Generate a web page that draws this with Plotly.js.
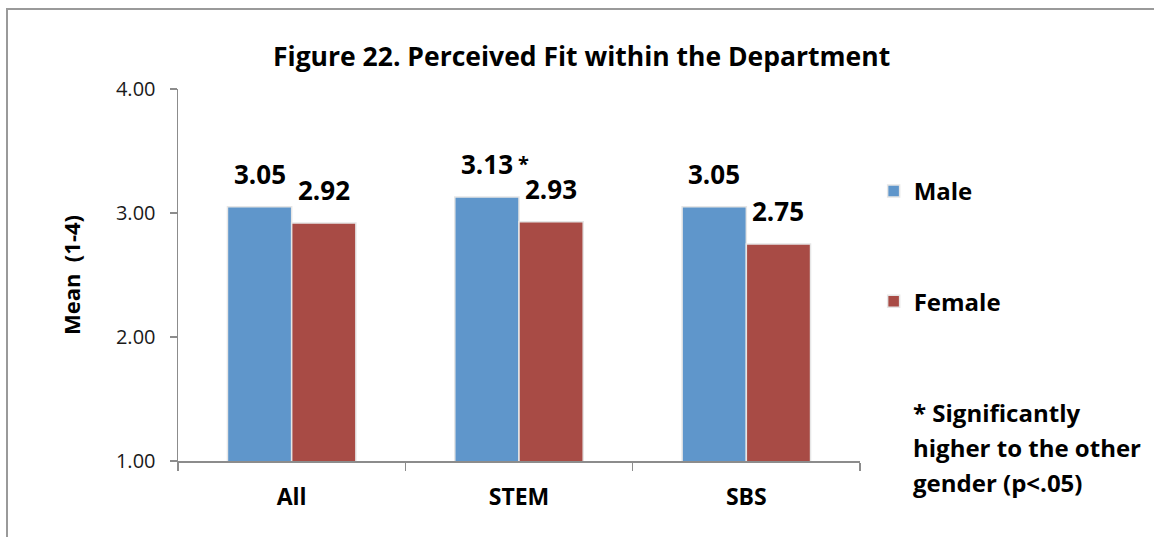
<!DOCTYPE html>
<html>
<head>
<meta charset="utf-8">
<script src="https://cdn.plot.ly/plotly-3.0.1.min.js"></script>
<style>
  html, body { margin: 0; padding: 0; background: #fff; overflow: hidden; }
  #chart { position: absolute; left: 0; top: 0; width: 1154px; height: 537px; }
  #frame { position: absolute; left: 6px; top: 8px; width: 3000px; height: 3000px;
           border-left: 2px solid #9a9a9a; border-top: 2px solid #9a9a9a; pointer-events: none; }
</style>
</head>
<body>
<div id="chart"></div>
<div id="frame"></div>
<script>
const categories = ["All", "STEM", "SBS"];
const maleValues = [3.05, 3.13, 3.05];
const femaleValues = [2.92, 2.93, 2.75];
const maleLabels = ["3.05", "3.13", "3.05"];
const femaleLabels = ["2.92", "2.93", "2.75"];
const maleStars = ["", "*", ""];
const yTicks = [1, 2, 3, 4];
const yTickLabels = ["1.00", "2.00", "3.00", "4.00"];
const noteLines = ["* Significantly", "higher to the other", "gender (p<.05)"];

const FONT = "'Open Sans', Lato, sans-serif";
const maleColor = "#5F96CB";
const femaleColor = "#A84B45";

const traces = [
  { type: "bar", name: "Male", x: categories, y: maleValues,
    marker: { color: maleColor, line: { color: "#e6e6e6", width: 1.5 } },
    legendgroup: "m", hoverinfo: "skip" },
  { type: "bar", name: "Female", x: categories, y: femaleValues,
    marker: { color: femaleColor, line: { color: "#e6e6e6", width: 1.5 } },
    legendgroup: "f", hoverinfo: "skip" }
];

const annotations = [];
const offset = 32;
const labelFont = { family: FONT, size: 26, color: "#000", weight: "bold" };
categories.forEach((c, i) => {
  annotations.push({ x: c, y: maleValues[i], xref: "x", yref: "y", text: maleLabels[i],
    showarrow: false, xshift: -offset, yanchor: "bottom", yshift: 13, font: labelFont });
  annotations.push({ x: c, y: femaleValues[i], xref: "x", yref: "y", text: femaleLabels[i],
    showarrow: false, xshift: offset, yanchor: "bottom", yshift: 13, font: labelFont });
  if (maleStars[i]) {
    annotations.push({ x: c, y: maleValues[i], xref: "x", yref: "y", text: maleStars[i],
      showarrow: false, xshift: -offset + 29, xanchor: "left", yanchor: "bottom", yshift: 18,
      font: { family: FONT, size: 20, color: "#000", weight: "bold" } });
  }
});
noteLines.forEach((line, i) => {
  annotations.push({ x: 1.0748, y: 0.1317, xref: "paper", yref: "paper", xanchor: "left", yanchor: "middle",
    yshift: -35 * i, align: "left", showarrow: false, text: line,
    font: { family: FONT, size: 24, color: "#000", weight: "bold" } });
});

const layout = {
  width: 1154, height: 537,
  margin: { l: 178, r: 294, t: 89, b: 76 },
  paper_bgcolor: "#fff", plot_bgcolor: "#fff",
  font: { family: FONT, color: "#000" },
  title: { text: "Figure 22. Perceived Fit within the Department",
    font: { family: FONT, size: 26.5, color: "#000", weight: "bold" }, x: 0.504, xanchor: "center", y: 0.895, yanchor: "middle" },
  barmode: "group", bargap: 0.435, bargroupgap: 0,
  xaxis: { type: "category", showline: true, linecolor: "#8c8c8c", linewidth: 1.5,
    ticks: "outside", tickson: "boundaries", ticklen: 8, tickcolor: "#8c8c8c", tickwidth: 1.5,
    tickfont: { family: FONT, size: 23, color: "#000", weight: "bold" }, ticklabelstandoff: 15,
    showgrid: false, zeroline: false, fixedrange: true },
  yaxis: { range: [1, 4], tickvals: yTicks, ticktext: yTickLabels, showline: true,
    linecolor: "#8c8c8c", linewidth: 1.5, ticks: "outside", ticklen: 7, tickcolor: "#8c8c8c", tickwidth: 1.5,
    tickfont: { family: FONT, size: 20, color: "#1a1a1a" }, ticklabelstandoff: 10,
    showgrid: false, zeroline: false, fixedrange: true,
    title: { text: "Mean\u00a0\u00a0(1-4)", font: { family: FONT, size: 22, color: "#000", weight: "bold" }, standoff: 29 } },
  legend: { x: 1.02, xanchor: "left", y: 0.785, yanchor: "top", tracegroupgap: 76,
    font: { family: FONT, size: 24, color: "#000", weight: "bold" }, bgcolor: "rgba(0,0,0,0)",
    traceorder: "grouped" },
  annotations: annotations,
  showlegend: true
};

Plotly.newPlot("chart", traces, layout, { displayModeBar: false, staticPlot: true });
</script>
</body>
</html>
